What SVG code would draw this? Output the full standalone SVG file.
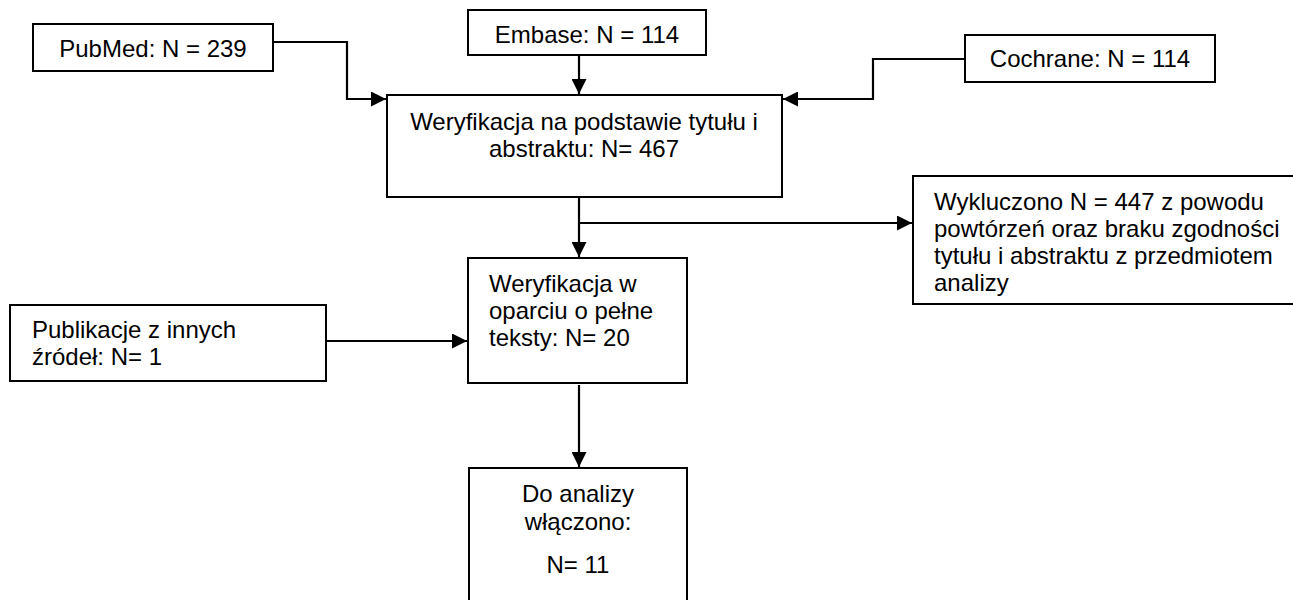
<svg xmlns="http://www.w3.org/2000/svg" width="1293" height="600" viewBox="0 0 1293 600">
<style>
.box{fill:#fff;stroke:#000;stroke-width:2}
.t{font-family:"Liberation Sans",Arial,sans-serif;font-size:24px;fill:#000}
.c{text-anchor:middle}
.ln{fill:none;stroke:#000;stroke-width:2.2}
</style>
<defs>
<marker id="ah" viewBox="0 0 15 15" refX="15" refY="7.5" markerWidth="15" markerHeight="15" markerUnits="userSpaceOnUse" orient="auto">
<path d="M0,0 L15,7.5 L0,15 Z" fill="#000"/>
</marker>
</defs>
<rect width="1293" height="600" fill="#fff"/>
<g id="connectors">
<polyline class="ln" points="273,42 347,42 347,99 386,99" marker-end="url(#ah)"/>
<line class="ln" x1="579" y1="55" x2="579" y2="94" marker-end="url(#ah)"/>
<polyline class="ln" points="965,59 873,59 873,99 783,99" marker-end="url(#ah)"/>
<line class="ln" x1="579" y1="188" x2="579" y2="257" marker-end="url(#ah)"/>
<line class="ln" x1="579" y1="223" x2="912" y2="223" marker-end="url(#ah)"/>
<line class="ln" x1="326" y1="341" x2="467" y2="341" marker-end="url(#ah)"/>
<line class="ln" x1="579" y1="385" x2="579" y2="467" marker-end="url(#ah)"/>
</g>
<g id="pubmed">
<rect class="box" x="33" y="24" width="240" height="47"/>
<text class="t c" x="153" y="57">PubMed: N = 239</text>
</g>
<g id="embase">
<rect class="box" x="468" y="10" width="238" height="45"/>
<text class="t c" x="587" y="43">Embase: N = 114</text>
</g>
<g id="cochrane">
<rect class="box" x="965" y="35" width="250" height="47"/>
<text class="t c" x="1090" y="67">Cochrane: N = 114</text>
</g>
<g id="screening">
<rect class="box" x="387" y="95" width="395" height="102"/>
<text class="t c" x="584" y="130">Weryfikacja na podstawie tytułu i</text>
<text class="t c" x="584" y="157">abstraktu: N= 467</text>
</g>
<g id="excluded">
<rect class="box" x="913" y="176" width="400" height="128"/>
<text class="t" x="934" y="210">Wykluczono N = 447 z powodu</text>
<text class="t" x="934" y="237">powtórzeń oraz braku zgodności</text>
<text class="t" x="934" y="264">tytułu i abstraktu z przedmiotem</text>
<text class="t" x="934" y="291">analizy</text>
</g>
<g id="fulltext">
<rect class="box" x="468" y="258" width="219" height="125"/>
<text class="t" x="489" y="292">Weryfikacja w</text>
<text class="t" x="489" y="319">oparciu o pełne</text>
<text class="t" x="489" y="346">teksty: N= 20</text>
</g>
<g id="other">
<rect class="box" x="10" y="305" width="316" height="76"/>
<text class="t" x="32" y="338">Publikacje z innych</text>
<text class="t" x="32" y="365">źródeł: N= 1</text>
</g>
<g id="included">
<rect class="box" x="469" y="468" width="218" height="150"/>
<text class="t c" x="578" y="502">Do analizy</text>
<text class="t c" x="578" y="530">włączono:</text>
<text class="t c" x="578" y="573">N= 11</text>
</g>
</svg>
